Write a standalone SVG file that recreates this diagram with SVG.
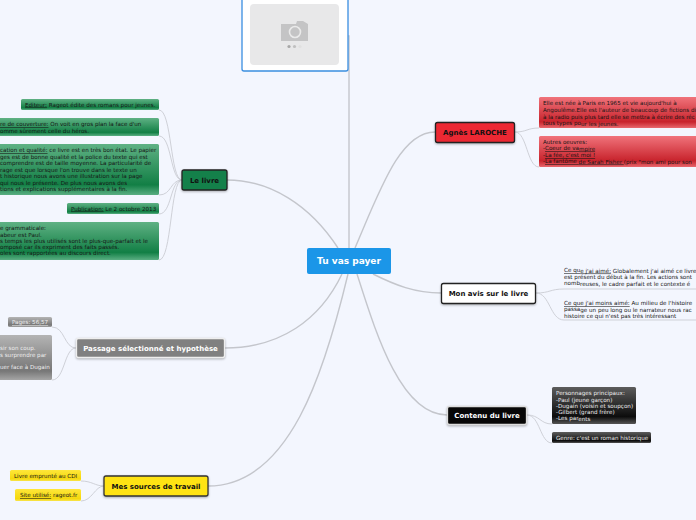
<svg xmlns="http://www.w3.org/2000/svg" width="696" height="520" viewBox="0 0 696 520">
<defs>
<linearGradient id="gG" x1="0" y1="0" x2="0" y2="1"><stop offset="0" stop-color="#5fb184"/><stop offset=".8" stop-color="#127f45"/><stop offset="1" stop-color="#5aae82"/></linearGradient>
<linearGradient id="gR" x1="0" y1="0" x2="0" y2="1"><stop offset="0" stop-color="#f0737b"/><stop offset=".8" stop-color="#c8232c"/><stop offset="1" stop-color="#e8686e"/></linearGradient>
<linearGradient id="gK" x1="0" y1="0" x2="0" y2="1"><stop offset="0" stop-color="#5c5c5c"/><stop offset=".8" stop-color="#0c0c0c"/><stop offset="1" stop-color="#555"/></linearGradient>
<linearGradient id="gA" x1="0" y1="0" x2="0" y2="1"><stop offset="0" stop-color="#b4b4b4"/><stop offset=".8" stop-color="#777"/><stop offset="1" stop-color="#a5a5a5"/></linearGradient>
<linearGradient id="gY" x1="0" y1="0" x2="0" y2="1"><stop offset="0" stop-color="#ffe73a"/><stop offset=".8" stop-color="#f5d80e"/><stop offset="1" stop-color="#f8e44c"/></linearGradient>
</defs>
<style>
text{font-family:"DejaVu Sans",Verdana,sans-serif}
.m{font-size:7px;font-weight:700;text-anchor:middle}
.s{font-size:5.6px;fill:#151515}
.w{fill:#eee}
.u{text-decoration:underline}
.c{fill:none;stroke:#cfd1d8;stroke-width:1}
.t{fill:none;stroke:#c4c6cc;stroke-width:1.4}
.main{stroke-width:1.3;filter:drop-shadow(0 1px 1px rgba(0,0,0,.3))}
</style>
<rect width="696" height="520" fill="#f3f6fe"/>
<g id="connectors">
<path class="t" d="M349 248V36H348"/>
<path class="t" d="M338 248C310 205 270 180 227 180"/>
<path class="t" d="M342 274C320 320 280 348 225 348"/>
<path class="t" d="M348 274C325 370 290 486 208 486"/>
<path class="t" d="M355 248C380 190 400 132 435 132"/>
<path class="t" d="M373 274C395 285 415 293 441 293"/>
<path class="t" d="M357 274C375 330 400 415 447 415"/>
<path class="c" d="M182 180C170 180 172 110 159 110"/>
<path class="c" d="M182 180C170 180 172 136 159 136"/>
<path class="c" d="M182 180C170 180 172 195 159 195"/>
<path class="c" d="M182 180C170 180 172 214 159 214"/>
<path class="c" d="M182 180C170 180 172 260 159 260"/>
<path class="c" d="M76 348C64 348 65 327 52 327"/>
<path class="c" d="M76 348C64 348 65 380 52 380"/>
<path class="c" d="M104 486C95 486 92 481 81 481"/>
<path class="c" d="M104 486C95 486 92 501 81 501"/>
<path class="c" d="M515 132C527 132 527 128 539 128"/>
<path class="c" d="M515 132C527 132 527 167 539 167"/>
<path class="c" d="M536 293C550 293 550 289 564 289H696"/>
<path class="c" d="M536 293C550 293 550 320 564 320H696"/>
<path class="c" d="M527 415C540 415 540 424 552 424"/>
<path class="c" d="M527 415C540 415 540 443 552 443"/>
</g>
<g id="image"><rect x="242" y="-6" width="106" height="77" rx="2" fill="#fff" stroke="#3a8ee0" stroke-width="1.3"/><rect x="250" y="4" width="89" height="61" rx="4" fill="#e8e8e9"/><path d="M281 24H296L297 21H303L308 24V41H281Z" fill="#c4c4c5"/><circle cx="295" cy="32" r="5.5" fill="none" stroke="#eaeaea" stroke-width="1.6"/><circle cx="289" cy="46.500" r="1.600" fill="#a8a8a8"/><circle cx="294.500" cy="46.500" r="1.600" fill="#c0c0c0"/><circle cx="300" cy="46.500" r="1.600" fill="#e0e0e0"/></g>
<g id="center"><rect x="307" y="248" width="84" height="26" rx="2" fill="#1b96e8"/><text class="m" x="349" y="264" fill="#fff" style="font-size:9px">Tu vas payer</text></g>
<g id="livre"><rect class="main" x="182" y="170" width="45" height="20" rx="2" fill="#14804a" stroke="#222"/><text class="m" x="204.500" y="182.500" fill="#111">Le livre</text></g>
<g id="editeur"><rect x="21" y="99" width="138" height="11" rx="1.500" fill="url(#gG)"/><text class="s" x="25" y="106.500"><tspan class="u">Editeur:</tspan> Rageot édite des romans pour jeunes.</text></g>
<g id="couverture"><rect x="-5" y="118" width="164" height="18" rx="1.500" fill="url(#gG)"/><text class="s"><tspan x="0" y="126"><tspan class="u">re de couverture:</tspan> On voit en gros plan la face d'un</tspan><tspan x="0" y="133">omme sûrement celle du héros.</tspan></text></g>
<g id="conservation"><rect x="-5" y="144" width="164" height="51" rx="1.500" fill="url(#gG)"/><text class="s"><tspan x="0" y="152"><tspan class="u">cation et qualité:</tspan> ce livre est en très bon état. Le papier</tspan><tspan x="0" y="158.500">ges est de bonne qualité et la police du texte qui est</tspan><tspan x="0" y="165">comprendre est de taille moyenne. La particularité de</tspan><tspan x="0" y="171.500">rage est que lorsque l'on trouve dans le texte un</tspan><tspan x="0" y="178">t historique nous avons une illustration sur la page</tspan><tspan x="0" y="184.500">qui nous le présente. De plus nous avons des</tspan><tspan x="0" y="191">tions et explications supplémentaires à la fin.</tspan></text></g>
<g id="publication"><rect x="67" y="203" width="92" height="11" rx="1.500" fill="url(#gG)"/><text class="s" x="71" y="210.500"><tspan class="u">Publication:</tspan> Le 2 octobre 2013</text></g>
<g id="grammaire"><rect x="-5" y="222" width="164" height="38" rx="1.500" fill="url(#gG)"/><text class="s"><tspan x="0" y="230">e grammaticale:</tspan><tspan x="0" y="236.500">abeur est Paul.</tspan><tspan x="0" y="242.500">s temps les plus utilisés sont le plus-que-parfait et le</tspan><tspan x="0" y="249">omposé car ils expriment des faits passés.</tspan><tspan x="0" y="255">oles sont rapportées au discours direct.</tspan></text></g>
<g id="passage"><rect class="main" x="76.500" y="338.500" width="148" height="19" rx="2" fill="#808080" stroke="#eee"/><text class="m" x="150.500" y="350.500" fill="#fff">Passage sélectionné et hypothèse</text></g>
<g id="pages"><rect x="8" y="317" width="44" height="10" rx="1.500" fill="url(#gA)"/><text class="s w u" x="12" y="324">Pages: 56,57</text></g>
<g id="hypothese"><rect x="-5" y="335" width="57" height="45" rx="1.500" fill="url(#gA)"/><text class="s w"><tspan x="0" y="350">sir son coup.</tspan><tspan x="0" y="356.500">s surprendre par</tspan><tspan x="0" y="369">uer face à Dugain</tspan></text></g>
<g id="sources"><rect class="main" x="104" y="476" width="104" height="20" rx="2" fill="#ffe313" stroke="#333"/><text class="m" x="156" y="488.500" fill="#111">Mes sources de travail</text></g>
<g id="emprunt"><rect x="10" y="470" width="71" height="11" rx="1.500" fill="url(#gY)"/><text class="s" x="14" y="478">Livre emprunté au CDI</text></g>
<g id="site"><rect x="15" y="489" width="66" height="12" rx="1.500" fill="url(#gY)"/><text class="s" x="20" y="497"><tspan class="u">Site utilisé:</tspan> rageot.fr</text></g>
<g id="agnes"><rect class="main" x="435.500" y="122.500" width="79" height="20" rx="2" fill="#ec2833" stroke="#222"/><text class="m" x="475" y="135" fill="#111">Agnès LAROCHE</text></g>
<g id="bio"><rect x="539" y="97" width="170" height="31" rx="1.500" fill="url(#gR)"/><text class="s"><tspan x="543" y="105">Elle est née à Paris en 1965 et vie aujourd'hui à</tspan><tspan x="543" y="111.500">Angoulême.</tspan><tspan dy=".5">Elle est l'auteur de beaucoup de fictions di</tspan><tspan x="543" y="118.500">à la radio puis plus tard elle se mettra à écrire des réc</tspan><tspan x="543" y="125">tous types po</tspan><tspan dy=".5">ur les jeunes.</tspan></text></g>
<g id="oeuvres"><rect x="539" y="136" width="170" height="31" rx="1.500" fill="url(#gR)"/><text class="s"><tspan x="543" y="144">Autres oeuvres:</tspan><tspan x="543" y="150">-</tspan><tspan class="u">Coeur de va</tspan><tspan class="u" dy=".5">mpire</tspan><tspan x="543" y="157">-</tspan><tspan class="u">La fée, c'est moi !</tspan><tspan x="543" y="163">-</tspan><tspan class="u">La fantôme </tspan><tspan class="u" dy=".5">de Sarah Fisher </tspan><tspan>(prix "mon ami pour son </tspan></text></g>
<g id="avis"><rect class="main" x="441.500" y="283.500" width="94" height="20" rx="2" fill="#fff" stroke="#222"/><text class="m" x="488.500" y="296" fill="#111">Mon avis sur le livre</text></g>
<g id="aime"><text class="s"><tspan class="u" x="564" y="272">Ce qu</tspan><tspan class="u" dy=".5">e j'ai aimé:</tspan><tspan> Globalement j'ai aimé ce livre</tspan><tspan x="564" y="279">est présent du début à la fin. Les actions sont</tspan><tspan x="564" y="285">nomb</tspan><tspan dy=".5">reuses, le cadre parfait et le contexte é</tspan></text></g>
<g id="moins"><text class="s"><tspan class="u" x="564" y="305">Ce que j'ai moins aimé:</tspan><tspan> Au milieu de l'histoire</tspan><tspan x="564" y="311">passa</tspan><tspan dy=".5">ge un peu long ou le narrateur nous rac</tspan><tspan x="564" y="317.500">histoire ce qui n'est pas très intéressant</tspan></text></g>
<g id="contenu"><rect class="main" x="447.500" y="406.500" width="79" height="18" rx="2" fill="#070707" stroke="#ddd"/><text class="m" x="487" y="418" fill="#fff">Contenu du livre</text></g>
<g id="persos"><rect x="552" y="387" width="84" height="37" rx="1.500" fill="url(#gK)"/><text class="s w"><tspan x="556" y="394.500">Personna</tspan><tspan dy=".5">ges principaux:</tspan><tspan x="556" y="401.500">-Paul (jeune garçon)</tspan><tspan x="556" y="407.500">-Dugain (voisin et soupçon)</tspan><tspan x="556" y="414">-Gilbert (grand frère)</tspan><tspan x="556" y="420">-Les par</tspan><tspan dy=".5">ents</tspan></text></g>
<g id="genre"><rect x="552" y="432" width="99" height="11" rx="1.500" fill="url(#gK)"/><text class="s w" x="556" y="440">Genre: c'est un roman historique</text></g>
</svg>
